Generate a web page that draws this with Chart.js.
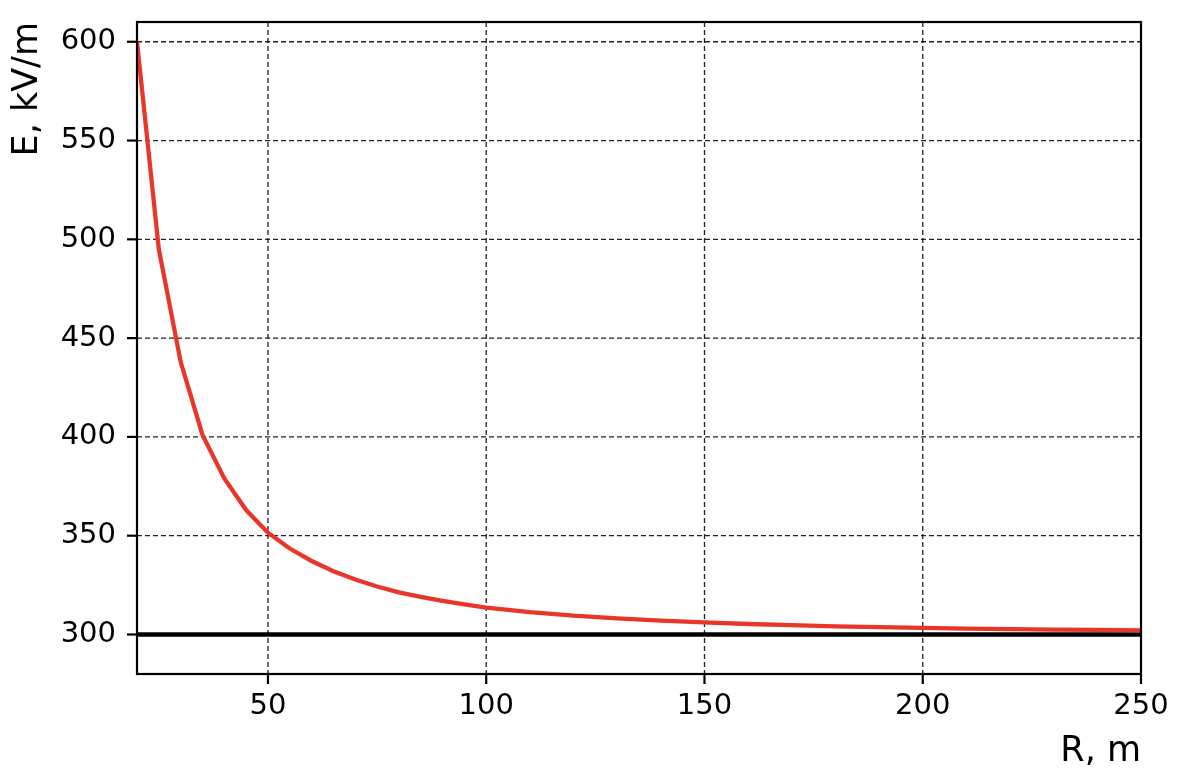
<!DOCTYPE html>
<html><head><meta charset="utf-8">
<script src="https://cdn.jsdelivr.net/npm/chart.js@4"></script>
<style>html,body{margin:0;padding:0;background:#fff}canvas{display:block}</style>
</head><body>
<canvas id="c" width="1184" height="778"></canvas>
<script>
// ---- data ----
const distanceR = [20,25,30,35,40,45,50,55,60,65,70,75,80,85,90,95,100,110,120,130,140,150,160,170,180,190,200,210,220,230,240,250];
const fieldE   = [600,495,438,401,379,363,351.5,343.5,337.2,332,327.8,324.3,321.3,319,317,315.2,313.6,311.3,309.5,308.2,307,306.1,305.3,304.7,304.1,303.7,303.3,303,302.7,302.5,302.3,302.1];
const thresholdR = [20,250];
const thresholdE = [300,300];
const xTickValues = [50,100,150,200,250];
const yTickValues = [300,350,400,450,500,550,600];
const xLabel = 'R, m';
const yLabel = 'E, kV/m';

const FONT = 'DejaVu Sans';
const TICK_LEN = 10;

const framePlugin = {
  id: 'frame',
  beforeDatasetsDraw(chart) {
    const {ctx, chartArea: a, scales: {x, y}} = chart;
    ctx.save();
    ctx.strokeStyle = '#222';
    ctx.lineWidth = 1.3;
    ctx.setLineDash([5, 3]);
    xTickValues.forEach(v => {
      const px = x.getPixelForValue(v);
      ctx.beginPath(); ctx.moveTo(px, a.top); ctx.lineTo(px, a.bottom); ctx.stroke();
    });
    yTickValues.forEach(v => {
      const py = y.getPixelForValue(v);
      ctx.beginPath(); ctx.moveTo(a.left, py); ctx.lineTo(a.right, py); ctx.stroke();
    });
    ctx.restore();
  },
  afterDatasetsDraw(chart) {
    const {ctx, chartArea: a, scales: {x, y}} = chart;
    ctx.save();
    ctx.strokeStyle = '#000';
    ctx.lineWidth = 2.2;
    ctx.setLineDash([]);
    ctx.strokeRect(a.left, a.top, a.right - a.left, a.bottom - a.top);
    xTickValues.forEach(v => {
      const px = x.getPixelForValue(v);
      ctx.beginPath(); ctx.moveTo(px, a.bottom); ctx.lineTo(px, a.bottom + TICK_LEN); ctx.stroke();
    });
    yTickValues.forEach(v => {
      const py = y.getPixelForValue(v);
      ctx.beginPath(); ctx.moveTo(a.left, py); ctx.lineTo(a.left - TICK_LEN, py); ctx.stroke();
    });
    ctx.restore();
  }
};

new Chart(document.getElementById('c'), {
  type: 'line',
  data: {
    datasets: [
      {
        data: distanceR.map((r, i) => ({x: r, y: fieldE[i]})),
        borderColor: '#e8372a',
        borderWidth: 4.3,
        pointRadius: 0,
        tension: 0,
        fill: false
      },
      {
        data: thresholdR.map((r, i) => ({x: r, y: thresholdE[i]})),
        borderColor: '#000',
        borderWidth: 4.5,
        pointRadius: 0,
        tension: 0,
        fill: false
      }
    ]
  },
  options: {
    responsive: false,
    devicePixelRatio: 1,
    animation: false,
    events: [],
    layout: {padding: {top: 22, right: 43, left: 0, bottom: 0}},
    plugins: {legend: {display: false}, tooltip: {enabled: false}},
    scales: {
      x: {
        type: 'linear',
        min: 20, max: 250,
        afterBuildTicks: s => { s.ticks = xTickValues.map(v => ({value: v})); },
        afterFit: s => { s.height = 104; s.paddingLeft = 0; s.paddingRight = 0; },
        grid: {display: true, drawOnChartArea: false, drawTicks: true, tickLength: TICK_LEN, lineWidth: 0},
        border: {display: false},
        ticks: {color: '#000', font: {family: FONT, size: 29}, padding: 5, maxRotation: 0, autoSkip: false},
        title: {display: true, text: xLabel, align: 'end', color: '#000', font: {family: FONT, size: 35}, padding: {top: 0, bottom: 5}}
      },
      y: {
        type: 'linear',
        min: 280, max: 610,
        afterBuildTicks: s => { s.ticks = yTickValues.map(v => ({value: v})); },
        afterFit: s => { s.width = 137; s.paddingTop = 0; s.paddingBottom = 0; },
        grid: {display: true, drawOnChartArea: false, drawTicks: true, tickLength: TICK_LEN, lineWidth: 0},
        border: {display: false},
        ticks: {color: '#000', font: {family: FONT, size: 29}, padding: 11, autoSkip: false},
        title: {display: true, text: yLabel, align: 'end', color: '#000', font: {family: FONT, size: 35}, padding: {top: 7, bottom: 0}}
      }
    }
  },
  plugins: [framePlugin]
});
</script>
</body></html>
